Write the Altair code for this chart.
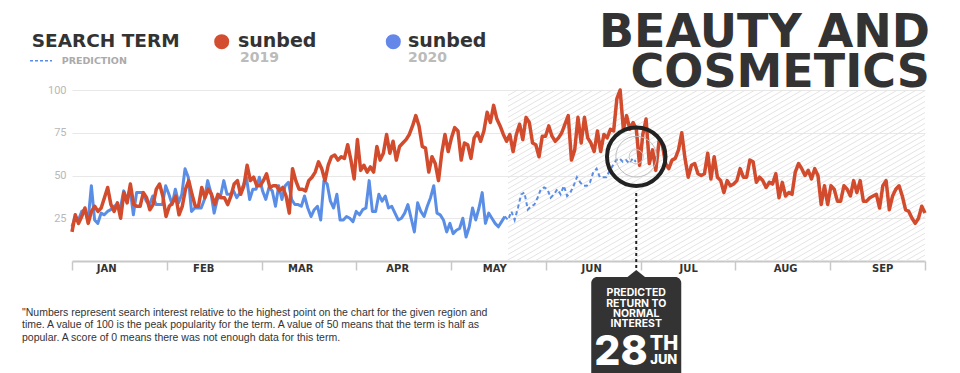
import altair as alt
import numpy as np
import pandas as pd

# ---------------- data ----------------
RED_2019 = [
    17, 27, 22, 26, 31, 22, 29, 32, 29, 31, 37, 43, 33, 29, 34, 25, 40, 34, 45, 33,
    32, 32, 40, 37, 30, 33, 42, 45, 38, 26, 32, 34, 38, 27, 32, 42, 47, 39, 32, 32,
    43, 37, 42, 39, 33, 39, 37, 37, 33, 38, 45, 47, 39, 44, 56, 47, 49, 44, 44, 47,
    51, 43, 44, 44, 41, 43, 38, 28, 54, 47, 42, 42, 41, 47, 49, 52, 58, 54, 47, 56,
    61, 62, 59,
    61, 60, 68, 59, 48, 71, 53, 56, 52, 55, 52, 67, 59, 63, 74, 63, 70, 59, 67, 69,
    71, 74, 79, 85, 79, 67, 66, 52, 61, 57, 47, 63, 74, 64, 72, 78, 76, 59, 69, 68,
    60, 72, 75, 70, 76, 87, 81, 91, 83, 79, 74, 70, 74, 64, 74, 80, 71, 84, 81, 69,
    68, 61, 73, 73, 79, 73, 70, 72, 75, 80, 85, 59, 65, 84, 69, 84, 72, 69, 64, 76,
    64, 74, 72, 77, 76, 95, 100, 77, 85, 77, 81, 77, 56, 74,
    83, 57, 65, 53, 70, 68, 57, 54, 59, 60, 65, 75, 60, 49, 56, 57, 51, 50, 51, 63,
    48, 61, 49, 47, 40, 47, 44, 45, 47, 54, 49, 49, 59, 58, 46, 49, 47, 43, 46, 45,
    51, 37, 46, 38, 40, 39, 52, 57, 54, 50, 53, 48, 54, 50, 33, 44, 33, 44, 42, 35,
    35, 44, 42, 38, 47, 40, 47, 35, 35, 37, 38, 39, 31, 44, 47, 30, 38, 42, 44, 38,
    30, 29, 25, 22, 25, 32, 28,
]
BLUE_2020 = [
    20, 26, 24, 29, 30, 24, 44, 24, 22, 28, 27, 29, 30, 32, 33, 31, 41, 36, 42, 27,
    40, 40, 40, 35, 33, 38, 33, 33, 33, 44, 39, 33, 42, 34, 39, 54, 49, 29, 31, 31,
    31, 36, 47, 40, 28, 36, 38, 47, 39, 39, 41, 37, 40, 44, 49, 36, 42, 42, 49, 41,
    36, 43, 41, 32, 44, 36, 44, 46, 36, 33, 33, 32, 38, 31, 26, 30, 32, 24, 47, 45,
    35, 31, 39,
    24, 24, 26, 25, 23, 29, 27, 30, 31, 47, 29, 29, 39, 35, 38, 31, 32, 28, 24, 25,
    28, 33, 25, 17, 34, 29, 26, 32, 37, 44, 28, 27, 24, 17, 22, 16, 18, 19, 25, 14,
    20, 31, 24, 31, 40, 22, 28, 25, 22, 20, 23, 26,
]
PRED_2020 = [
    26, 24, 29, 24, 31, 39, 40, 30, 32, 33, 37, 42, 43, 42, 37, 39, 42, 39, 44, 38,
    40, 44, 49, 46, 44, 44, 46, 52, 54, 49, 49, 49, 53, 56, 59, 60, 58, 59, 57, 60, 58,
]
MONTHS = ["JAN", "FEB", "MAR", "APR", "MAY", "JUN", "JUL", "AUG", "SEP"]
Y_TICKS = [25, 50, 75, 100]

# day spans (30-day months on the axis)
DAYS = 270
RED_SPAN = (0, 270)
BLUE_SPAN = (0, 137)
PRED_SPAN = (137, 178.5)
HATCH_START_DAY = 138
RETURN_DAY = 178.6       # predicted return (28 Jun)
RETURN_VALUE = 61

FOOTNOTE = [
    '"Numbers represent search interest relative to the highest point on the chart for the given region and',
    "time. A value of 100 is the peak popularity for the term. A value of 50 means that the term is half as",
    "popular. A score of 0 means there was not enough data for this term.",
]

# ---------------- styles / layout ----------------
W, H = 853, 171
RED = "#d24b2d"
BLUE = "#5a8ee6"
DARK = "#333333"
HEAD = "Inter"
WIDE = "DejaVu Sans"
PXD = W / DAYS
PXV = H / 100.0

red_df = pd.DataFrame({"day": np.linspace(*RED_SPAN, len(RED_2019)), "v": RED_2019})
blue_df = pd.DataFrame({"day": np.linspace(*BLUE_SPAN, len(BLUE_2020)), "v": BLUE_2020})
pred_df = pd.DataFrame({"day": np.linspace(*PRED_SPAN, len(PRED_2020)), "v": PRED_2020})
month_df = pd.DataFrame({"day": [i * 30.7 + 11 for i in range(len(MONTHS))], "m": MONTHS})
point_df = pd.DataFrame({"day": [RETURN_DAY], "v": [RETURN_VALUE]})
one = pd.DataFrame({"a": [0]})

# hatch segments over the prediction period (decoration)
k = np.tan(np.radians(30))
L, R = HATCH_START_DAY * PXD, W
segs = []
c = L - H / k
while c < R:
    xa, ya = c, H
    xb, yb = c + H / k, 0.0
    if xa < L:
        ya = H - k * (L - c)
        xa = L
    if xb > R:
        yb = H - k * (R - c)
        xb = R
    if xa < xb:
        segs.append((xa / PXD, 100 - ya / PXV, xb / PXD, 100 - yb / PXV))
    c += 9.5
hatch_df = pd.DataFrame(segs, columns=["day", "v", "day2", "v2"])

X_AXIS = alt.Axis(values=list(range(0, DAYS + 1, 30)), labels=False, ticks=True, tickSize=9,
                  tickColor="#c8c8c8", tickWidth=1.5, domain=True, domainColor="#c8c8c8",
                  domainWidth=2, grid=False, title=None)
Y_AXIS = alt.Axis(values=Y_TICKS, grid=True, gridColor="#e8e8e8", ticks=False, domain=False,
                  labelColor="#b8b8b8", labelFontSize=11, labelFont="Roboto", labelPadding=6,
                  title=None)
XS = alt.Scale(domain=[0, DAYS], nice=False)
YS = alt.Scale(domain=[0, 100], nice=False)
X = alt.X("day:Q", scale=XS, axis=X_AXIS)
Y = alt.Y("v:Q", scale=YS, axis=Y_AXIS)

hatch = alt.Chart(hatch_df).mark_rule(color="#e4e4e4", strokeWidth=1).encode(
    x=X, y=Y, x2="day2:Q", y2="v2:Q")
blue = alt.Chart(blue_df).mark_line(color=BLUE, strokeWidth=3, strokeJoin="round").encode(x=X, y=Y)
pred = alt.Chart(pred_df).mark_line(color=BLUE, strokeWidth=2, strokeDash=[4, 3]).encode(x=X, y=Y)
red = alt.Chart(red_df).mark_line(color=RED, strokeWidth=3.5, strokeJoin="round").encode(x=X, y=Y)
months = alt.Chart(month_df).mark_text(fontSize=10, fontWeight="bold", font=WIDE, color=DARK,
                                       baseline="alphabetic").encode(x=X, y=alt.value(182), text="m:N")

ring_small = alt.Chart(point_df).mark_point(filled=False, size=201, color="#c8c8c8", strokeWidth=1,
                                            opacity=1).encode(x=X, y=Y)
ring_mid = alt.Chart(point_df).mark_point(filled=False, size=1662, color="#bdbdbd", strokeWidth=1,
                                          opacity=1).encode(x=X, y=Y)
ring_big = alt.Chart(point_df).mark_point(filled=False, size=3421, color="#222222", strokeWidth=4,
                                          opacity=1).encode(x=X, y=Y)
drop = alt.Chart(point_df).mark_rule(color="#222222", strokeWidth=2, strokeDash=[3, 3]).encode(
    x=X, y=alt.value(103), y2=alt.value(180))

cx = RETURN_DAY * PXD
box = alt.Chart(one).mark_rect(color=DARK, cornerRadius=6).encode(
    x=alt.value(cx - 45), x2=alt.value(cx + 45), y=alt.value(187), y2=alt.value(300))
pointer = alt.Chart(one).mark_point(shape="M-1,0.4L0,-0.4L1,0.4Z", filled=True, color=DARK,
                                    size=400, opacity=1).encode(x=alt.value(cx), y=alt.value(184))


def label(text, x, y, size, color=DARK, weight="bold", align="left", font=HEAD):
    return alt.Chart(one).mark_text(text=text, align=align, baseline="alphabetic", fontSize=size,
                                    fontWeight=weight, font=font,
                                    color=color).encode(x=alt.value(x), y=alt.value(y))


texts = [
    label("BEAUTY AND", 858, -43.3, 46, align="right", font=WIDE),
    label("COSMETICS", 858, -2.7, 46, align="right", font=WIDE),
    label("SEARCH TERM", -40.3, -43.3, 18.5, font=WIDE),
    label("PREDICTION", -10.3, -25.7, 9.5, color="#aaaaaa", font=WIDE),
    label("sunbed", 166, -43.3, 19, font=WIDE),
    label("2019", 168, -28.3, 14, color="#bbbbbb", font=WIDE),
    label("sunbed", 336, -43.3, 19, font=WIDE),
    label("2020", 336, -28.3, 14, color="#bbbbbb", font=WIDE),
    label("PREDICTED", cx, 206, 10.5, color="white", align="center"),
    label("RETURN TO", cx, 216.7, 10.5, color="white", align="center"),
    label("NORMAL", cx, 226.7, 10.5, color="white", align="center"),
    label("INTEREST", cx, 237.3, 10.5, color="white", align="center"),
    label("28", cx + 11.5, 275, 41, color="white", weight=800, align="right"),
    label("TH", cx + 13.5, 260, 20, color="white", weight=800),
    label("JUN", cx + 14, 274, 13, color="white", weight=800),
]
for i, line in enumerate(FOOTNOTE):
    texts.append(label(line, -50, 225.7 + 12.5 * i, 10.5, color="#333333", weight="normal",
                       font="Liberation Sans"))

legend_red = alt.Chart(one).mark_point(filled=True, size=227, color="#d34e30", opacity=1).encode(
    x=alt.value(149.7), y=alt.value(-48.3))
legend_blue = alt.Chart(one).mark_point(filled=True, size=227, color="#6487ea", opacity=1).encode(
    x=alt.value(321.3), y=alt.value(-48.3))
legend_dash = alt.Chart(one).mark_rule(color=BLUE, strokeWidth=1.5, strokeDash=[3, 2]).encode(
    x=alt.value(-42), x2=alt.value(-20), y=alt.value(-29.3))

chart = alt.layer(
    hatch, blue, pred, red, months, ring_small, ring_mid, ring_big, drop, box, pointer,
    legend_red, legend_blue, legend_dash, *texts
).properties(
    width=W, height=H,
    padding={"left": 64, "top": 82, "right": 27, "bottom": 112},
    autosize=alt.AutoSizeParams(type="none"),
    background="white",
).configure_view(stroke=None)

chart.save("out.html", embed_options={"renderer": "svg", "actions": False})
